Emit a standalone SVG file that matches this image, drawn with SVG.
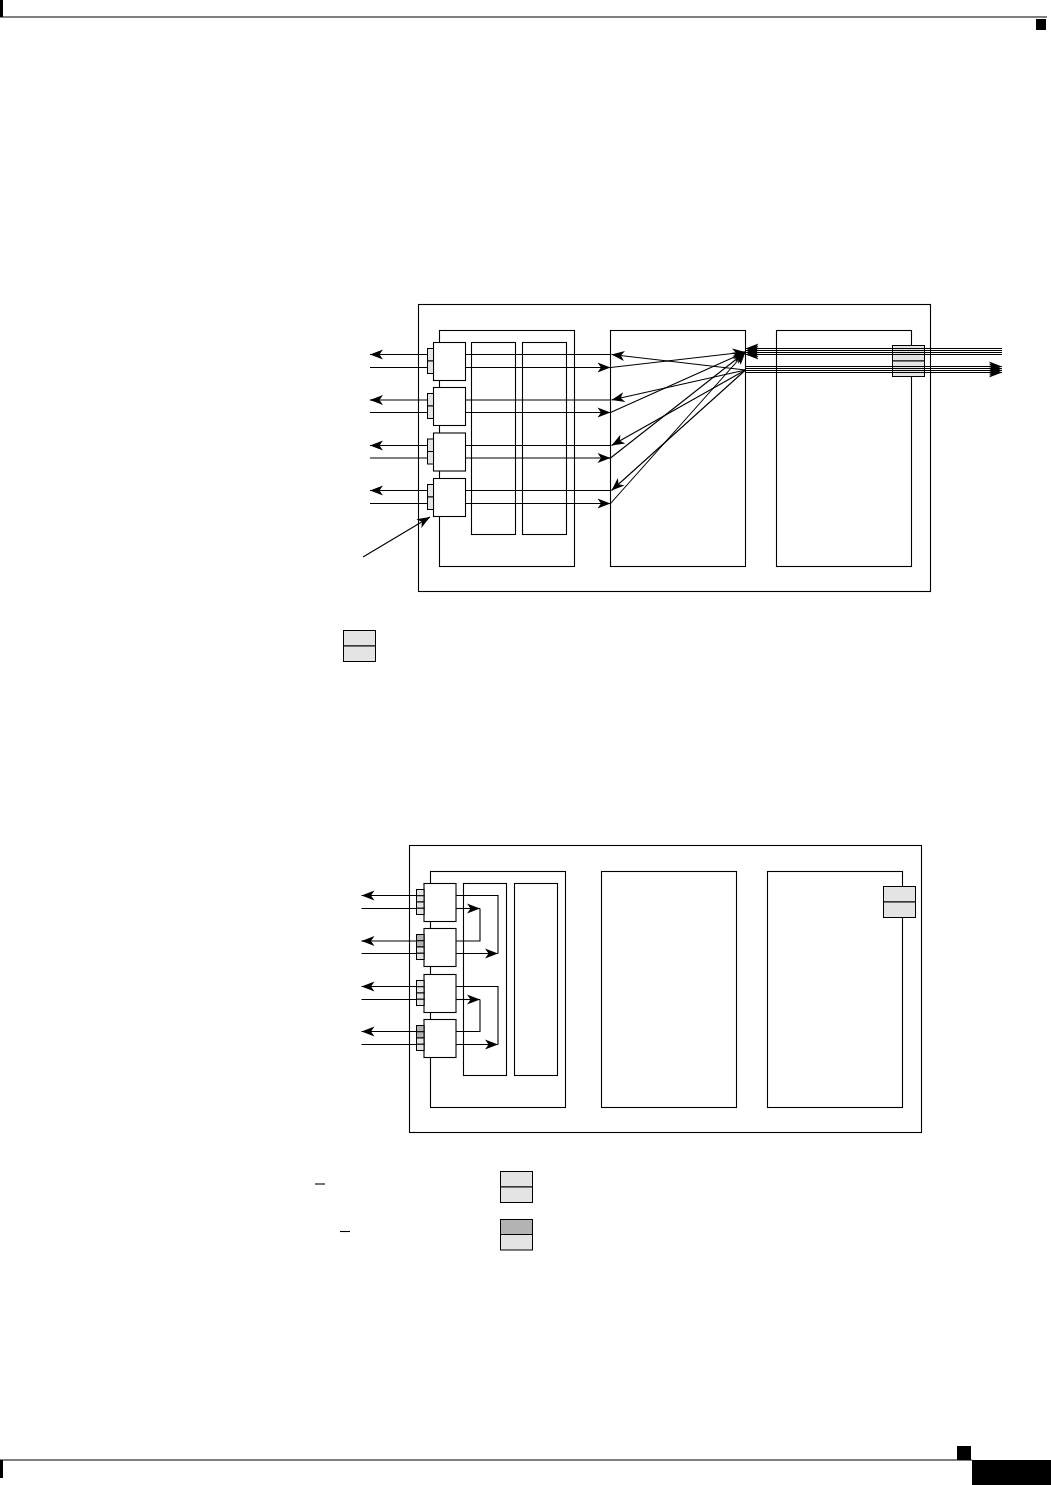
<svg xmlns="http://www.w3.org/2000/svg" width="1051" height="1485" viewBox="0 0 1051 1485">
<style>
.ln{fill:none;stroke:#000;stroke-width:1.1}
.bx{fill:#fff;stroke:#000;stroke-width:1.1}
.lt{fill:#e4e4e4;stroke:#000;stroke-width:1}
.dk{fill:#b3b3b3;stroke:#000;stroke-width:1}
.ar{fill:none;stroke:#000;stroke-width:1.1;marker-end:url(#ah)}
.as{fill:none;stroke:#000;stroke-width:1;marker-start:url(#ahs)}
.ab{fill:none;stroke:#000;stroke-width:1;marker-end:url(#ah)}
</style>
<defs>
<marker id="ah" markerWidth="14" markerHeight="11" refX="13" refY="5" orient="auto" markerUnits="userSpaceOnUse" overflow="visible"><path d="M0,0 L13,5 L0,10 L3.5,5 z" fill="#000"/></marker>
<marker id="ahs" markerWidth="14" markerHeight="11" refX="0" refY="5" orient="auto" markerUnits="userSpaceOnUse" overflow="visible"><path d="M13,0 L0,5 L13,10 L9.5,5 z" fill="#000"/></marker>
</defs>
<rect width="1051" height="1485" fill="#fff"/>
<g id="page">
<line x1="0" y1="17" x2="1047" y2="17" stroke="#000" stroke-width="1.2"/>
<rect x="0" y="0" width="3" height="17" fill="#000"/>
<rect x="1036" y="19" width="10" height="11" fill="#000"/>
<line x1="0" y1="1460" x2="972" y2="1460" stroke="#000" stroke-width="1.2"/>
<rect x="0" y="1460" width="3" height="18" fill="#000"/>
<rect x="957" y="1446" width="14" height="14" fill="#000"/>
<rect x="972" y="1460" width="79" height="25" fill="#000"/>
</g>
<!-- Top diagram -->
<g id="top-chassis"><rect class="bx" x="418.5" y="304.5" width="512" height="287"/></g>
<g id="top-linecard"><rect class="bx" x="439.5" y="330.5" width="135" height="236"/></g>
<g id="top-col1"><rect class="bx" x="471.5" y="342.5" width="44" height="192"/></g>
<g id="top-col2"><rect class="bx" x="522.5" y="342.5" width="44" height="192"/></g>
<g id="top-middle"><rect class="bx" x="610.5" y="330.5" width="135" height="236"/></g>
<g id="top-right"><rect class="bx" x="776.5" y="330.5" width="135" height="236"/></g>
<g id="top-uplink"><rect class="lt" x="892.5" y="345.5" width="32" height="15.5"/><rect class="lt" x="892.5" y="361" width="32" height="15.5"/></g>
<g id="top-sfp1"><rect class="bx" x="433.5" y="342.5" width="32" height="38"/><rect class="lt" x="427.5" y="348.5" width="6" height="12.5"/><rect class="lt" x="427.5" y="361" width="6" height="12.5"/></g>
<g id="top-sfp2"><rect class="bx" x="433.5" y="387.5" width="32" height="38"/><rect class="lt" x="427.5" y="393.5" width="6" height="12.5"/><rect class="lt" x="427.5" y="406" width="6" height="12.5"/></g>
<g id="top-sfp3"><rect class="bx" x="433.5" y="433" width="32" height="38"/><rect class="lt" x="427.5" y="439" width="6" height="12.5"/><rect class="lt" x="427.5" y="451.5" width="6" height="12.5"/></g>
<g id="top-sfp4"><rect class="bx" x="433.5" y="478.5" width="32" height="38"/><rect class="lt" x="427.5" y="484.5" width="6" height="12.5"/><rect class="lt" x="427.5" y="497" width="6" height="12.5"/></g>
<g id="top-connectors">
<line class="ar" x1="427.5" y1="354.5" x2="370" y2="354.5"/>
<line class="ln" x1="370" y1="367.5" x2="427.5" y2="367.5"/>
<line class="ar" x1="427.5" y1="400" x2="370" y2="400"/>
<line class="ln" x1="370" y1="412.5" x2="427.5" y2="412.5"/>
<line class="ar" x1="427.5" y1="445.5" x2="370" y2="445.5"/>
<line class="ln" x1="370" y1="458" x2="427.5" y2="458"/>
<line class="ar" x1="427.5" y1="490.5" x2="370" y2="490.5"/>
<line class="ln" x1="370" y1="503.5" x2="427.5" y2="503.5"/>
<line class="ln" x1="465.5" y1="354.5" x2="610.5" y2="354.5"/>
<line class="ar" x1="465.5" y1="367.5" x2="610.5" y2="367.5"/>
<line class="ln" x1="465.5" y1="400" x2="610.5" y2="400"/>
<line class="ar" x1="465.5" y1="412.5" x2="610.5" y2="412.5"/>
<line class="ln" x1="465.5" y1="445.5" x2="610.5" y2="445.5"/>
<line class="ar" x1="465.5" y1="458" x2="610.5" y2="458"/>
<line class="ln" x1="465.5" y1="490.5" x2="610.5" y2="490.5"/>
<line class="ar" x1="465.5" y1="503.5" x2="610.5" y2="503.5"/>
<line class="ar" x1="610.5" y1="367.5" x2="745.5" y2="352"/>
<line class="ar" x1="610.5" y1="412.5" x2="745.5" y2="352"/>
<line class="ar" x1="610.5" y1="458" x2="745.5" y2="352"/>
<line class="ar" x1="610.5" y1="503.5" x2="745.5" y2="352"/>
<line class="ar" x1="745.5" y1="370" x2="611.5" y2="354.5"/>
<line class="ar" x1="745.5" y1="370" x2="611.5" y2="400"/>
<line class="ar" x1="745.5" y1="370" x2="611.5" y2="445.5"/>
<line class="ar" x1="745.5" y1="370" x2="611.5" y2="490.5"/>
<line class="as" x1="745.5" y1="348.5" x2="1002" y2="348.5"/>
<line class="as" x1="745.5" y1="350.5" x2="1002" y2="350.5"/>
<line class="as" x1="745.5" y1="352.5" x2="1002" y2="352.5"/>
<line class="as" x1="745.5" y1="354.5" x2="1002" y2="354.5"/>
<line class="ab" x1="745.5" y1="366.5" x2="1002" y2="366.5"/>
<line class="ab" x1="745.5" y1="368.5" x2="1002" y2="368.5"/>
<line class="ab" x1="745.5" y1="370.5" x2="1002" y2="370.5"/>
<line class="ab" x1="745.5" y1="372.5" x2="1002" y2="372.5"/>
<line class="ar" x1="363" y1="557" x2="430" y2="517"/>
</g>
<g id="top-legend"><rect class="lt" x="343.5" y="630.5" width="32" height="15.5"/><rect class="lt" x="343.5" y="646" width="32" height="15.5"/></g>
<!-- Bottom diagram -->
<g id="bot-chassis"><rect class="bx" x="409.5" y="845.5" width="512" height="287"/></g>
<g id="bot-linecard"><rect class="bx" x="430.5" y="871.5" width="135" height="236"/></g>
<g id="bot-col1"><rect class="bx" x="463.5" y="883.5" width="43" height="192"/></g>
<g id="bot-col2"><rect class="bx" x="514.5" y="883.5" width="43" height="192"/></g>
<g id="bot-middle"><rect class="bx" x="601.5" y="871.5" width="135" height="236"/></g>
<g id="bot-right"><rect class="bx" x="767.5" y="871.5" width="135" height="236"/></g>
<g id="bot-uplink"><rect class="lt" x="883.5" y="886.5" width="32" height="15.5"/><rect class="lt" x="883.5" y="902" width="32" height="15.5"/></g>
<g id="bot-sfp1"><rect class="bx" x="424" y="883.5" width="32" height="38"/><rect class="lt" x="416.5" y="889.5" width="7.5" height="6.25"/><rect class="lt" x="416.5" y="895.75" width="7.5" height="6.25"/><rect class="lt" x="416.5" y="902" width="7.5" height="6.25"/><rect class="lt" x="416.5" y="908.25" width="7.5" height="6.25"/></g>
<g id="bot-sfp2"><rect class="bx" x="424" y="928.5" width="32" height="38"/><rect class="dk" x="416.5" y="934.5" width="7.5" height="6.25"/><rect class="dk" x="416.5" y="940.75" width="7.5" height="6.25"/><rect class="lt" x="416.5" y="947" width="7.5" height="6.25"/><rect class="lt" x="416.5" y="953.25" width="7.5" height="6.25"/></g>
<g id="bot-sfp3"><rect class="bx" x="424" y="974.5" width="32" height="38"/><rect class="lt" x="416.5" y="980.5" width="7.5" height="6.25"/><rect class="lt" x="416.5" y="986.75" width="7.5" height="6.25"/><rect class="lt" x="416.5" y="993" width="7.5" height="6.25"/><rect class="lt" x="416.5" y="999.25" width="7.5" height="6.25"/></g>
<g id="bot-sfp4"><rect class="bx" x="424" y="1019.5" width="32" height="38"/><rect class="dk" x="416.5" y="1025.5" width="7.5" height="6.25"/><rect class="dk" x="416.5" y="1031.75" width="7.5" height="6.25"/><rect class="lt" x="416.5" y="1038" width="7.5" height="6.25"/><rect class="lt" x="416.5" y="1044.25" width="7.5" height="6.25"/></g>
<g id="bot-connectors">
<line class="ar" x1="416.5" y1="895.5" x2="361.5" y2="895.5"/>
<line class="ln" x1="361.5" y1="908.5" x2="416.5" y2="908.5"/>
<line class="ar" x1="416.5" y1="941" x2="361.5" y2="941"/>
<line class="ln" x1="361.5" y1="953.5" x2="416.5" y2="953.5"/>
<line class="ar" x1="416.5" y1="986.5" x2="361.5" y2="986.5"/>
<line class="ln" x1="361.5" y1="999.5" x2="416.5" y2="999.5"/>
<line class="ar" x1="416.5" y1="1031.5" x2="361.5" y2="1031.5"/>
<line class="ln" x1="361.5" y1="1044.5" x2="416.5" y2="1044.5"/>
<polyline class="ln" points="456,895.5 498,895.5 498,953.5"/>
<line class="ar" x1="456" y1="953.5" x2="498" y2="953.5"/>
<polyline class="ln" points="456,941 480,941 480,908.5"/>
<line class="ar" x1="456" y1="908.5" x2="480" y2="908.5"/>
<polyline class="ln" points="456,986.5 498,986.5 498,1044.5"/>
<line class="ar" x1="456" y1="1044.5" x2="498" y2="1044.5"/>
<polyline class="ln" points="456,1031.5 480,1031.5 480,999.5"/>
<line class="ar" x1="456" y1="999.5" x2="480" y2="999.5"/>
</g>
<g id="bot-legend1"><rect class="lt" x="500.5" y="1171.5" width="32" height="15.5"/><rect class="lt" x="500.5" y="1187" width="32" height="15.5"/><line class="ln" x1="315" y1="1184" x2="325" y2="1184"/></g>
<g id="bot-legend2"><rect class="dk" x="500.5" y="1219.5" width="32" height="15"/><rect class="lt" x="500.5" y="1234.5" width="32" height="15.5"/><line class="ln" x1="340" y1="1231.5" x2="350" y2="1231.5"/></g>
</svg>
